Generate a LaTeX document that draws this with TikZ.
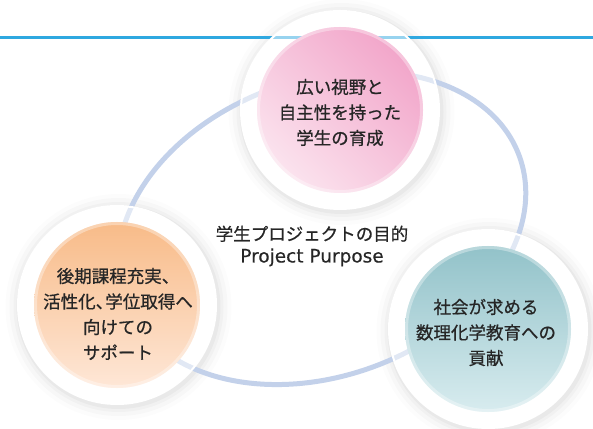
\documentclass[tikz,border=0pt]{standalone}
\usepackage{fontspec}
\usetikzlibrary{calc}
\newfontfamily\jp[FakeBold=0.7]{Noto Sans CJK JP}
\newfontfamily\lat[FakeBold=0.4]{DejaVu Sans}
\definecolor{topline}{HTML}{2FA8E0}
\definecolor{ringc}{HTML}{C3D1EA}
\definecolor{txt}{HTML}{262626}
\definecolor{pinkA}{HTML}{F2A6CA}
\definecolor{pinkB}{HTML}{FBE3EE}
\definecolor{oranA}{HTML}{F8BB88}
\definecolor{oranB}{HTML}{FEE7D7}
\definecolor{tealA}{HTML}{92C2C9}
\definecolor{tealB}{HTML}{D8ECEF}
\begin{document}
\begin{tikzpicture}[x=1pt,y=1pt,
  halo/.style={fill=white, fill opacity=0.5, draw=white, draw opacity=1, line width=2pt},
  rim/.style={draw=white, draw opacity=0.35, line width=3pt},
  lbl/.style={align=center, font=\jp\fontsize{17.5}{25.5}\selectfont, text=txt, inner sep=0pt},
  ctr/.style={align=center, font=\jp\fontsize{17.5}{22}\selectfont, text=txt, inner sep=0pt},
 ]
\useasboundingbox (0,0) rectangle (593,428);
\coordinate (L) at (0,390.5);
\coordinate (R) at (593,390.5);
\coordinate (cp) at (340,318);
\coordinate (co) at (117,123);
\coordinate (ct) at (488,99);
\coordinate (ce) at (322,200);
% soft glows outside the halos
\foreach \c in {cp,co,ct}{
  \foreach \r/\o in {113/0.012,109/0.018,105/0.024,102/0.03}{
    \fill[black, opacity=\o, even odd rule] ($(\c)+(1.5,-2)$) circle (\r pt) (\c) circle (99pt);
  }
}
\draw[topline, line width=3pt] (L) -- (R);
\draw[ringc, line width=5pt, rotate around={20:(ce)}] (ce) ellipse [x radius=210pt, y radius=148pt];
% halos
\foreach \c in {cp,co,ct}{ \path[halo] (\c) circle (99pt); }
% discs
\shade[top color=pinkA, bottom color=pinkB, shading angle=-45] (cp) circle (83pt);
\path[rim] (cp) circle (81.5pt);
\shade[top color=oranA, bottom color=oranB] (co) circle (83pt);
\path[rim] (co) circle (81.5pt);
\shade[top color=tealA, bottom color=tealB] (ct) circle (83pt);
\path[rim] (ct) circle (81.5pt);
% labels
\node[lbl] (tp) at ($(cp)+(0,-2.5)$) {広い視野と\\自主性を持った\\学生の育成};
\node[lbl] (to) at ($(co)+(1,-9)$) {後期課程充実、\\活性化、\kern-0.45em 学位取得へ\\向けての\\サポート};
\node[lbl] (tt) at ($(ct)+(-2,-3.5)$) {社会が求める\\数理化学教育への\\貢献};
\node[ctr] (tc) at (312,182) {学生プロジェクトの目的\\{\lat\fontsize{18.5}{22}\selectfont Project Purpose}};
\end{tikzpicture}
\end{document}
